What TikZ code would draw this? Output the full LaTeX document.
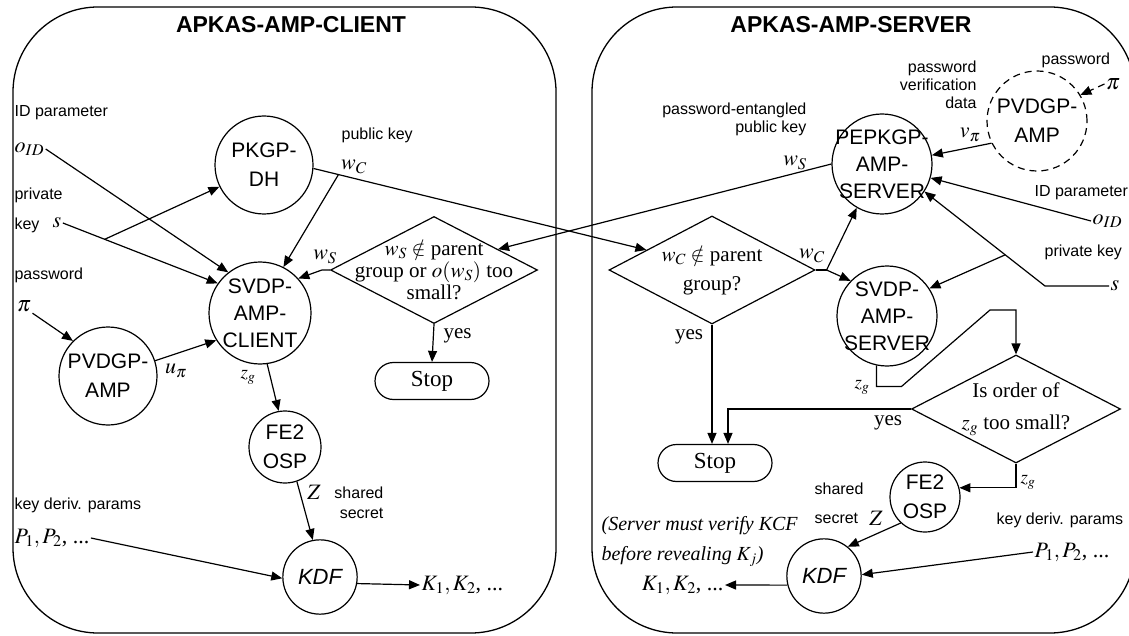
\documentclass[tikz,border=0pt]{standalone}
\usepackage{mathptmx}
\usepackage{fontspec}
\setmainfont{Liberation Serif}
\setsansfont{Liberation Sans}
\usetikzlibrary{arrows.meta,shapes.geometric,shapes.misc,calc}
\begin{document}
\begin{tikzpicture}[x=1pt,y=-1pt,line width=1.2pt,
  box/.style={draw,line width=1.3pt,rounded corners=85pt},
  title/.style={font=\sffamily\bfseries\fontsize{23}{26}\selectfont,inner sep=0pt},
  proc/.style={circle,draw,inner sep=-40pt,align=center,font=\sffamily\fontsize{21}{29}\selectfont},
  proct/.style={circle,draw,inner sep=-40pt,align=center,font=\sffamily\fontsize{21}{27}\selectfont},
  kdf/.style={circle,draw,inner sep=-40pt,minimum size=70pt,font=\sffamily\itshape\fontsize{22}{26}\selectfont},
  dec/.style={diamond,draw,inner sep=-80pt,align=center,font=\fontsize{21}{22}\selectfont},
  stopbox/.style={rounded rectangle,draw,minimum width=114pt,minimum height=37pt,inner sep=0pt,font=\fontsize{23}{26}\selectfont},
  lab/.style={font=\sffamily\fontsize{16}{18}\selectfont,inner sep=1pt},
  mlab/.style={font=\fontsize{22}{24}\selectfont,inner sep=1pt},
  zlab/.style={font=\fontsize{19}{22}\selectfont,inner sep=1pt},
  slab/.style={font=\fontsize{21}{24}\selectfont,inner sep=1pt},
  note/.style={font=\itshape\fontsize{20}{30}\selectfont,inner sep=1pt,align=left},
  arr/.style={-{Triangle[length=11pt,width=9pt]}}]
\useasboundingbox (0,0) rectangle (1129,636);
\clip (0,0) rectangle (1129,636);

% boxes
\draw[box] (13,7) rectangle (556,633);
\draw[box] (592,7) rectangle (1135,633);
\node[title] (tc) at (291,25) {APKAS-AMP-CLIENT};
\node[title] (ts) at (851,25) {APKAS-AMP-SERVER};

% ---------------- client ----------------
\node[proc,minimum size=98pt] (pkgp) at (264,165) {PKGP-\\DH};
\node[proct,minimum size=102pt] (svdpc) at (260,313) {SVDP-\\AMP-\\CLIENT};
\node[proc,minimum size=98pt] (pvdgpc) at (108,376) {PVDGP-\\AMP};
\node[proc,minimum size=72pt] (fe2c) at (285,447) {FE2\\OSP};
\node[kdf] (kdfc) at (320,577) {KDF};
\node[dec,minimum width=207pt,minimum height=107pt] (dc) at (434,270) {$w_S\notin$ parent\\group or $o(w_S)$ too\\small?};
\node[stopbox] (stopc) at (432,381) {Stop};

\node[lab,anchor=west] (idc) at (13,113) {ID parameter};
\node[mlab,anchor=west] (oidc) at (13,149) {$o_{ID}$};
\node[lab,anchor=west] (privc) at (13,195) {private};
\node[lab,anchor=west] (keyc) at (13,225) {key};
\node[mlab] (sc) at (57,223) {$s$};
\node[lab,anchor=west] (pwc) at (13,275) {password};
\node[mlab] (pic) at (24,306) {$\pi$};
\node[lab,anchor=west] (pubc) at (340,135) {public key};
\node[mlab] (wcc) at (354,167) {$w_C$};
\node[mlab] (wsc) at (325,257) {$w_S$};
\node[mlab] (upi) at (176,371) {$u_\pi$};
\node[zlab] (zgc) at (248,377) {$z_g$};
\node[slab,anchor=west] (yesc) at (442,336) {yes};
\node[mlab] (zc) at (314,492) {$Z$};
\node[lab,anchor=east,align=right,font=\sffamily\fontsize{16}{20}\selectfont] (shc) at (385,503) {shared\\secret};
\node[lab,anchor=west] (kdpc) at (13,505) {key deriv. params};
\node[mlab,anchor=west] (pc) at (13,538) {$P_1, P_2$, ...};
\node[mlab,anchor=west] (kc) at (420,585) {$K_1, K_2$, ...};

% ---------------- server ----------------
\node[proct,minimum size=100pt] (pep) at (882,164) {PEPKGP-\\AMP-\\SERVER};
\node[proc,dash pattern=on 7pt off 5pt,minimum size=100pt] (pvdgps) at (1037,121) {PVDGP-\\AMP};
\node[proct,minimum size=100pt] (svdps) at (887,316) {SVDP-\\AMP-\\SERVER};
\node[dec,minimum width=206pt,minimum height=108pt] (ds1) at (712,270) {$w_C\notin$ parent\\[7pt]group?};
\node[stopbox] (stops) at (715,463) {Stop};
\node[dec,minimum width=209pt,minimum height=108pt] (ds2) at (1016,409) {Is order of\\[10pt]$z_g$ too small?};
\node[proc,minimum size=70pt] (fe2s) at (925,497) {FE2\\OSP};
\node[kdf] (kdfs) at (824,576) {KDF};

\node[lab,anchor=east,align=right] (pes) at (808,119) {password-entangled\\public key};
\node[mlab] (wss) at (795,163) {$w_S$};
\node[lab,anchor=east,align=right] (pvd) at (978,85) {password\\verification\\data};
\node[mlab] (vpi) at (970,135) {$v_\pi$};
\node[lab,anchor=west] (pws) at (1040,60) {password};
\node[mlab] (pis) at (1113,84) {$\pi$};
\node[lab,anchor=west] (ids) at (1033,193) {ID parameter};
\node[mlab,anchor=west] (oids) at (1091,221) {$o_{ID}$};
\node[lab,anchor=west] (privs) at (1043,252) {private key};
\node[mlab] (ss) at (1115,286) {$s$};
\node[mlab] (wcs) at (812,256) {$w_C$};
\node[slab] (yess1) at (689,337) {yes};
\node[zlab] (zgs1) at (862,387) {$z_g$};
\node[slab] (yess2) at (888,423) {yes};
\node[zlab] (zgs2) at (1028,482) {$z_g$};
\node[lab,anchor=west] (shs) at (813,489) {shared};
\node[lab,anchor=west] (scs) at (813,518) {secret};
\node[mlab] (zs) at (876,518) {$Z$};
\node[lab,anchor=west] (kdps) at (995,520) {key deriv. params};
\node[mlab,anchor=west] (ps) at (1033,552) {$P_1, P_2$, ...};
\node[note,anchor=west] (nts) at (600,542) {(Server must verify KCF\\before revealing $K_j$)};
\node[mlab,anchor=east] (ks) at (725,585) {$K_1, K_2$, ...};

% ---------------- client connectors ----------------
\draw[arr] (oidc.east) -- (svdpc.128);
\draw[arr] (sc.east) -- (svdpc.145);
\coordinate (sb) at ($(sc.east)!0.27!(svdpc.145)$);
\draw[arr] (sb) -- (pkgp.206);
\draw[arr] (pic.south east) -- (pvdgpc.135);
\draw[arr] (pvdgpc.18) -- (svdpc.212);
\draw[arr] (pkgp.356) -- (ds1.163);
\coordinate (wcb) at ($(pkgp.356)!0.075!(ds1.163)$);
\draw[arr] (wcb) -- (svdpc.63);
\draw[arr] (dc.west) -- ++(-8,0) -- (svdpc.42);
\draw[arr] (dc.south) -- (stopc.north);
\draw[arr] (svdpc.278) -- (fe2c.100);
\draw[arr] (fe2c.289) -- (kdfc.101);
\draw[arr] (pc.east) -- (kdfc.182);
\draw[arr] (kdfc.350) -- (kc.west);

% ---------------- server connectors ----------------
\coordinate (wcj) at ([xshift=11pt]ds1.east);
\draw (ds1.east) -- (wcj);
\draw[arr] (wcj) -- (pep.240);
\draw[arr] (wcj) -- (svdps.136);
\draw[arr] (ds1.south) -- (ds1.south |- stops.north);
\draw[arr] (pep.180) -- (dc.18);
\draw[arr,dash pattern=on 7pt off 5pt] (pis.west) -- (pvdgps.31);
\draw[arr] (pvdgps.206) -- (pep.10);
\draw[arr] (oids.west) -- (pep.344);
\coordinate (sk) at (1045,286);
\draw[arr] (ss.west) -- (sk) -- (pep.327);
\coordinate (ssb) at ($(sk)!0.33!(pep.327)$);
\draw[arr] (ssb) -- (svdps.33);
\draw[arr] (svdps.258) -- ++(0,21) -- ++(25,0) -- (990,310) -| (ds2.north);
\draw[arr] (ds2.west) -| ([xshift=13pt]stops.north);
\draw[arr] (ds2.south) |- (fe2s.15);
\draw[arr] (fe2s.227) -- (kdfs.51);
\draw[arr] (ps.west) -- (kdfs.2);
\draw[arr] (kdfs.194) -- (ks.east);
\end{tikzpicture}
\end{document}
